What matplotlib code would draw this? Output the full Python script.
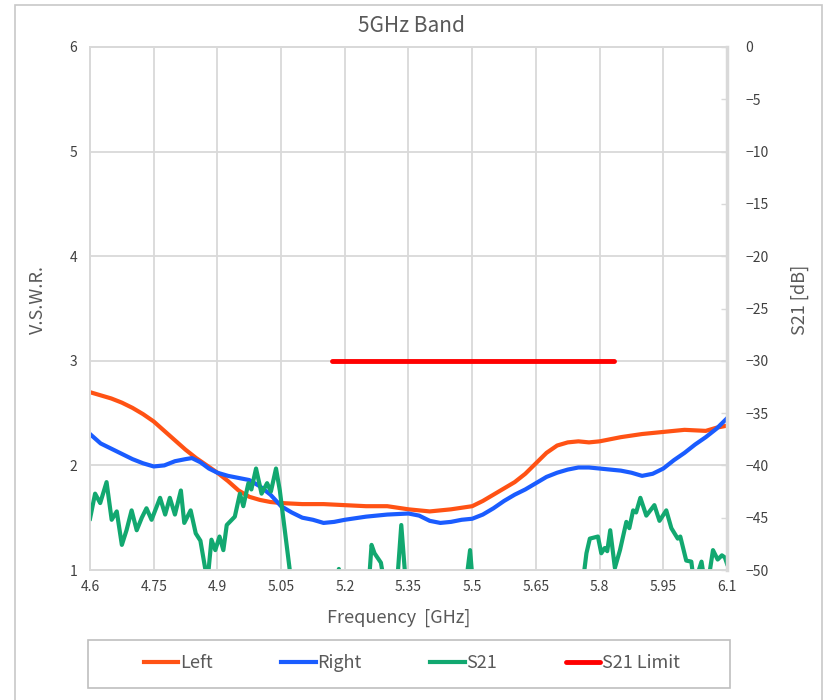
import numpy as np
import matplotlib
matplotlib.use("Agg")
import matplotlib.pyplot as plt
from matplotlib.patches import Rectangle

plt.rcParams["font.family"] = ["Noto Sans CJK JP", "DejaVu Sans"]

# VSWR, left antenna
left_freq = [4.600, 4.625, 4.650, 4.675, 4.700, 4.725, 4.750, 4.775, 4.800, 4.825,
             4.850, 4.875, 4.900, 4.925, 4.950, 4.975, 5.000, 5.025, 5.050, 5.100,
             5.150, 5.200, 5.250, 5.300, 5.350, 5.400, 5.450, 5.500, 5.525, 5.550,
             5.575, 5.600, 5.625, 5.650, 5.675, 5.700, 5.725, 5.750, 5.775, 5.800,
             5.825, 5.850, 5.900, 5.950, 6.000, 6.050, 6.075, 6.100]
left_vswr = [2.70, 2.67, 2.64, 2.60, 2.55, 2.49, 2.42, 2.33, 2.24, 2.15,
             2.07, 2.00, 1.93, 1.85, 1.76, 1.70, 1.67, 1.65, 1.64, 1.63,
             1.63, 1.62, 1.61, 1.61, 1.58, 1.56, 1.58, 1.61, 1.66, 1.72,
             1.78, 1.84, 1.92, 2.02, 2.12, 2.19, 2.22, 2.23, 2.22, 2.23,
             2.25, 2.27, 2.30, 2.32, 2.34, 2.33, 2.36, 2.38]

# VSWR, right antenna
right_freq = [4.600, 4.625, 4.650, 4.675, 4.700, 4.725, 4.750, 4.775, 4.800, 4.825,
              4.840, 4.860, 4.880, 4.900, 4.925, 4.950, 4.975, 5.000, 5.025, 5.050,
              5.075, 5.100, 5.125, 5.150, 5.175, 5.200, 5.250, 5.300, 5.350, 5.375,
              5.400, 5.425, 5.450, 5.475, 5.500, 5.525, 5.550, 5.575, 5.600, 5.625,
              5.650, 5.675, 5.700, 5.725, 5.750, 5.775, 5.800, 5.825, 5.850, 5.875,
              5.900, 5.925, 5.950, 5.975, 6.000, 6.025, 6.050, 6.075, 6.100]
right_vswr = [2.30, 2.21, 2.16, 2.11, 2.06, 2.02, 1.99, 2.00, 2.04, 2.06,
              2.07, 2.03, 1.97, 1.93, 1.90, 1.88, 1.86, 1.80, 1.72, 1.61,
              1.55, 1.50, 1.48, 1.45, 1.46, 1.48, 1.51, 1.53, 1.54, 1.52,
              1.47, 1.45, 1.46, 1.48, 1.49, 1.53, 1.59, 1.66, 1.72, 1.77,
              1.83, 1.89, 1.93, 1.96, 1.98, 1.98, 1.97, 1.96, 1.95, 1.93,
              1.90, 1.92, 1.97, 2.05, 2.12, 2.20, 2.27, 2.35, 2.45]

# S21 isolation [dB] (values below -50 run off the chart)
s21_freq = [4.600, 4.612, 4.624, 4.639, 4.651, 4.663, 4.675, 4.686, 4.698, 4.710,
            4.722, 4.733, 4.745, 4.765, 4.777, 4.788, 4.800, 4.814, 4.822, 4.837,
            4.849, 4.860, 4.871, 4.878, 4.886, 4.895, 4.905, 4.914, 4.922, 4.941,
            4.953, 4.961, 4.973, 4.980, 4.991, 5.004, 5.017, 5.026, 5.038, 5.047,
            5.071, 5.090, 5.180, 5.186, 5.192, 5.240, 5.258, 5.263, 5.270, 5.285,
            5.292, 5.320, 5.333, 5.345, 5.480, 5.495, 5.505, 5.755, 5.769, 5.777,
            5.796, 5.804, 5.812, 5.818, 5.825, 5.836, 5.848, 5.863, 5.870, 5.879,
            5.886, 5.896, 5.910, 5.929, 5.941, 5.957, 5.969, 5.984, 5.990, 6.004,
            6.016, 6.020, 6.030, 6.040, 6.045, 6.058, 6.067, 6.078, 6.088, 6.095,
            6.100]
s21_db = [-45.1, -42.7, -43.6, -41.6, -45.2, -44.4, -47.6, -46.2, -44.3, -46.2,
          -45.0, -44.1, -45.2, -43.1, -44.7, -43.1, -44.7, -42.4, -45.5, -44.3,
          -46.5, -47.2, -49.8, -50.5, -47.1, -48.1, -46.8, -48.1, -45.7, -44.9,
          -42.7, -43.9, -41.7, -42.3, -40.3, -42.7, -41.7, -42.5, -40.3, -42.4,
          -50.2, -56.0, -52.0, -49.9, -52.0, -54.0, -50.5, -47.6, -48.4, -49.3,
          -51.0, -53.0, -45.7, -52.0, -53.0, -48.1, -53.0, -53.0, -48.4, -47.0,
          -46.8, -48.4, -47.9, -48.2, -46.2, -49.8, -48.1, -45.4, -46.0, -44.3,
          -44.5, -43.1, -44.8, -43.8, -45.3, -44.3, -46.0, -47.0, -46.8, -49.1,
          -49.2, -50.5, -50.5, -49.2, -50.5, -50.5, -48.1, -49.0, -48.6, -48.8,
          -49.4]

# S21 limit line
limit_freq = [5.17, 5.835]
limit_db = [-30, -30]

x_ticks = [4.6, 4.75, 4.9, 5.05, 5.2, 5.35, 5.5, 5.65, 5.8, 5.95, 6.1]
x_labels = ["4.6", "4.75", "4.9", "5.05", "5.2", "5.35", "5.5", "5.65", "5.8", "5.95", "6.1"]
vswr_ticks = [1, 2, 3, 4, 5, 6]
s21_ticks = [0, -5, -10, -15, -20, -25, -30, -35, -40, -45, -50]

C_LEFT = "#ff5214"
C_RIGHT = "#1a5cff"
C_S21 = "#12a870"
C_LIMIT = "#ff0000"
GRID = "#d9d9d9"
TXT = "#595959"
TICK = "#404040"

W, H = 828, 700
fig = plt.figure(figsize=(W / 100, H / 100), dpi=100)
ax = fig.add_axes([90 / W, 1 - 570 / H, 637 / W, 523 / H])
ax2 = ax.twinx()

ax.plot(left_freq, left_vswr, color=C_LEFT, lw=3, label="Left")
ax.plot(right_freq, right_vswr, color=C_RIGHT, lw=3, label="Right")
ax2.plot(s21_freq, s21_db, color=C_S21, lw=3, label="S21")
ax2.plot(limit_freq, limit_db, color=C_LIMIT, lw=3.5, solid_capstyle="round",
         label="S21 Limit")

ax.set_xlim(4.6, 6.1)
ax.set_ylim(1, 6)
ax2.set_ylim(-50, 0)

ax.set_xticks(x_ticks)
ax.set_xticklabels(x_labels)
ax.set_yticks(vswr_ticks)
ax2.set_yticks(s21_ticks)
ax2.set_yticklabels([str(t).replace("-", "\u2212") for t in s21_ticks])

ax.grid(True, color=GRID, lw=1.3)
ax.tick_params(axis="both", length=0, labelsize=10, labelcolor=TICK)
ax.tick_params(axis="x", pad=7)
ax.tick_params(axis="y", pad=9)
ax2.tick_params(axis="y", direction="in", length=4, width=1, color=GRID,
                labelsize=10, labelcolor=TICK, pad=13)

for a in (ax, ax2):
    for s in a.spines.values():
        s.set_color(GRID)
        s.set_linewidth(1.3)
ax2.spines["right"].set_linewidth(2.5)

fig.text(412 / W, 1 - 26 / H, "5GHz Band", ha="center", va="center",
         fontsize=15, color=TXT)
fig.text(399 / W, 1 - 618 / H, "Frequency  [GHz]", ha="center", va="center",
         fontsize=13, color=TXT)
fig.text(38 / W, 1 - 300 / H, "V.S.W.R.", ha="center", va="center",
         rotation=90, fontsize=13, color=TXT)
fig.text(800 / W, 1 - 300 / H, "S21 [dB]", ha="center", va="center",
         rotation=90, fontsize=13, color=TXT)

# legend box spans the plot width, entries centred inside it
fig.add_artist(Rectangle((88 / W, 1 - 688 / H), 642 / W, 48 / H,
                         transform=fig.transFigure, fill=False,
                         edgecolor="#bfbfbf", lw=1.2))
h1, l1 = ax.get_legend_handles_labels()
h2, l2 = ax2.get_legend_handles_labels()
fig.legend(h1 + h2, l1 + l2, ncol=4, loc="center",
           bbox_to_anchor=(412 / W, 1 - 663 / H),
           bbox_transform=fig.transFigure, frameon=False,
           handlelength=1.9, handletextpad=0.1, columnspacing=3.8,
           fontsize=13, labelcolor=TXT)

# outer chart frame
fig.add_artist(Rectangle((15 / W, -0.02), 807 / W, 1.02 - 5 / H,
                         transform=fig.transFigure, fill=False,
                         edgecolor="#c8c8c8", lw=1.2))

fig.savefig("out.png", dpi=100)
